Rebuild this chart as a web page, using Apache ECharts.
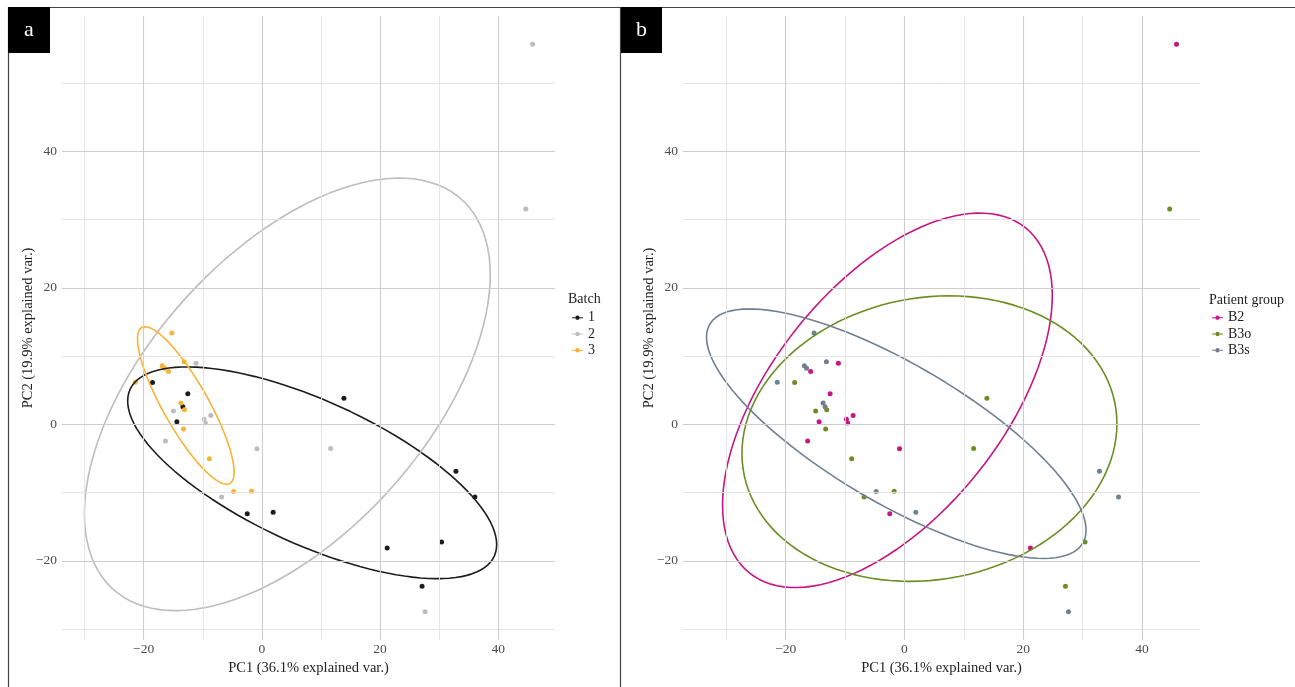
<!DOCTYPE html>
<html>
<head>
<meta charset="utf-8">
<script src="https://cdn.jsdelivr.net/npm/echarts@6/dist/echarts.min.js"></script>
<style>
  html, body { margin: 0; padding: 0; background: #ffffff; }
  #chart { width: 1295px; height: 687px; }
</style>
</head>
<body>
<div id="chart"></div>
<script>
// PCA scores of the 36 samples (first two components)
const pc1 = [
  -18.50, -12.53, -13.37, -14.38, -2.48, 1.91, 13.88, 32.83, 36.04, 30.40, 21.20, 27.10,
  -11.13, -14.96, -8.65, -9.78, -9.56, -16.31, -0.84, -6.80, 11.64, 27.61, 45.80, 44.65,
  -15.23, -13.15, -16.86, -16.48, -15.80, -21.42, -13.71, -13.10, -13.27, -8.89, -4.77, -1.74
];
const pc2 = [
  6.13, 4.51, 2.60, 0.40, -13.09, -12.88, 3.82, -6.85, -10.63, -17.25, -18.13, -23.72,
  8.97, 1.97, 1.32, 0.74, 0.21, -2.44, -3.57, -10.63, -3.53, -27.44, 55.70, 31.57,
  13.38, 9.18, 8.59, 8.24, 7.75, 6.18, 3.15, 2.16, -0.68, -5.04, -9.85, -9.79
];
const batch = [
  '1','1','1','1','1','1','1','1','1','1','1','1',
  '2','2','2','2','2','2','2','2','2','2','2','2',
  '3','3','3','3','3','3','3','3','3','3','3','3'
];
const patientGroup = [
  'B3o','B2','B3s','B2','B2','B3s','B3o','B3s','B3s','B3o','B2','B3o',
  'B2','B3o','B2','B2','B2','B2','B2','B3o','B3o','B3s','B2','B3o',
  'B3s','B3s','B3s','B3s','B2','B3s','B3s','B3o','B3o','B3o','B3s','B3o'
];

const batchLevels = ['1', '2', '3'];
const groupLevels = ['B2', 'B3o', 'B3s'];
const batchColors = ['#1c1c1c', '#bdbdbd', '#f9b233'];
const groupColors = ['#c71585', '#6b8e23', '#708090'];

const xTitle = 'PC1 (36.1% explained var.)';
const yTitle = 'PC2 (19.9% explained var.)';
const ellipseProb = 0.68;

const FONT = '"Liberation Serif", "DejaVu Serif", serif';

// Normal-theory concentration ellipse: mean + sqrt(qchisq(p, 2)) * circle %*% chol(cov)
function concentrationEllipse(xs, ys, prob) {
  const n = xs.length;
  const mx = xs.reduce((s, v) => s + v, 0) / n;
  const my = ys.reduce((s, v) => s + v, 0) / n;
  let sxx = 0, sxy = 0, syy = 0;
  for (let i = 0; i < n; i++) {
    const dx = xs[i] - mx, dy = ys[i] - my;
    sxx += dx * dx; sxy += dx * dy; syy += dy * dy;
  }
  sxx /= (n - 1); sxy /= (n - 1); syy /= (n - 1);
  const a = Math.sqrt(sxx), b = sxy / a, c = Math.sqrt(syy - b * b);
  const ed = Math.sqrt(-2 * Math.log(1 - prob));
  const pts = [];
  const seg = 120;
  for (let k = 0; k <= seg; k++) {
    const t = -Math.PI + 2 * Math.PI * k / seg;
    const ct = Math.cos(t), st = Math.sin(t);
    pts.push([mx + ed * a * ct, my + ed * (b * ct + c * st)]);
  }
  return pts;
}

function buildPanel(groupKey, levels) {
  const points = {}, ellipses = {};
  levels.forEach(lv => {
    const xs = [], ys = [];
    pc1.forEach((v, i) => { if (groupKey[i] === lv) { xs.push(v); ys.push(pc2[i]); } });
    points[lv] = xs.map((v, i) => [v, ys[i]]);
    ellipses[lv] = concentrationEllipse(xs, ys, ellipseProb);
  });
  // data range over points and ellipse paths, expanded by 5% each side
  const all = [];
  levels.forEach(lv => { all.push(...points[lv], ...ellipses[lv]); });
  const xv = all.map(p => p[0]), yv = all.map(p => p[1]);
  const xr = [Math.min(...xv), Math.max(...xv)];
  const yr = [Math.min(...yv), Math.max(...yv)];
  const ex = (xr[1] - xr[0]) * 0.05, ey = (yr[1] - yr[0]) * 0.05;
  return {
    points, ellipses,
    xlim: [xr[0] - ex, xr[1] + ex],
    ylim: [yr[0] - ey, yr[1] + ey]
  };
}

function breaks(lim, step) {
  const major = [], minor = [];
  const start = Math.ceil(lim[0] / step) * step;
  for (let v = start; v <= lim[1]; v += step) major.push(v);
  const ext = [major[0] - step, ...major, major[major.length - 1] + step];
  for (let i = 0; i < ext.length - 1; i++) {
    const m = (ext[i] + ext[i + 1]) / 2;
    if (m >= lim[0] && m <= lim[1]) minor.push(m);
  }
  return { major, minor };
}

const panelA = buildPanel(batch, batchLevels);
const panelB = buildPanel(patientGroup, groupLevels);

const MAJOR = { color: '#cdcdcd', width: 1.1, type: 'solid' };
const MINOR = { color: '#e2e2e2', width: 0.9, type: 'solid' };

function gridSeries(idx, panel) {
  const bx = breaks(panel.xlim, 20), by = breaks(panel.ylim, 20);
  const data = [];
  by.minor.forEach(v => data.push({ yAxis: v, lineStyle: MINOR }));
  bx.minor.forEach(v => data.push({ xAxis: v, lineStyle: MINOR }));
  by.major.forEach(v => data.push({ yAxis: v, lineStyle: MAJOR }));
  bx.major.forEach(v => data.push({ xAxis: v, lineStyle: MAJOR }));
  return {
    type: 'line', xAxisIndex: idx, yAxisIndex: idx, data: [], silent: true, z: 0,
    markLine: {
      silent: true, symbol: ['none', 'none'], animation: false,
      label: { show: false }, emphasis: { disabled: true },
      data
    }
  };
}

function panelSeries(idx, panel, levels, colors) {
  const s = [gridSeries(idx, panel)];
  levels.forEach((lv, k) => {
    s.push({
      name: lv, type: 'scatter', xAxisIndex: idx, yAxisIndex: idx,
      symbol: 'circle', symbolSize: 5, z: 2,
      itemStyle: { color: colors[k], opacity: 1 },
      data: panel.points[lv]
    });
  });
  levels.forEach((lv, k) => {
    s.push({
      name: 'ellipse ' + lv, type: 'line', xAxisIndex: idx, yAxisIndex: idx,
      showSymbol: false, smooth: false, z: 3, silent: true,
      lineStyle: { color: colors[k], width: 1.6 },
      data: panel.ellipses[lv]
    });
  });
  return s;
}

const fmt = v => (v < 0 ? '\u2212' + Math.abs(v) : String(v));

function xAxisCfg(idx, panel) {
  return {
    type: 'value', gridIndex: idx, min: panel.xlim[0], max: panel.xlim[1],
    axisLine: { show: false }, axisTick: { show: false }, splitLine: { show: false },
    axisLabel: {
      customValues: breaks(panel.xlim, 20).major, formatter: fmt,
      color: '#4d4d4d', fontSize: 13.5, fontFamily: FONT, margin: 2
    },
    name: xTitle, nameLocation: 'middle', nameGap: 21,
    nameTextStyle: { color: '#222', fontSize: 14.5, fontFamily: FONT }
  };
}
function yAxisCfg(idx, panel) {
  return {
    type: 'value', gridIndex: idx, min: panel.ylim[0], max: panel.ylim[1],
    axisLine: { show: false }, axisTick: { show: false }, splitLine: { show: false },
    axisLabel: {
      customValues: breaks(panel.ylim, 20).major, formatter: fmt,
      color: '#4d4d4d', fontSize: 13.5, fontFamily: FONT, margin: 5
    },
    name: yTitle, nameLocation: 'middle', nameGap: 26, nameRotate: 90,
    nameMoveOverlap: false,
    nameTextStyle: { color: '#222', fontSize: 14.5, fontFamily: FONT }
  };
}

// legend key: short line with a dot in its middle
const keyIcon = 'path://M0,2.1L3.4,2.1L3.4,3.1L0,3.1Z M7.6,2.1L11,2.1L11,3.1L7.6,3.1Z M3.3,2.6A2.2,2.2 0 1 0 7.7,2.6A2.2,2.2 0 1 0 3.3,2.6Z';

function legendCfg(left, names) {
  return {
    orient: 'vertical', left, top: 304.5, data: names,
    icon: keyIcon, itemWidth: 11, itemHeight: 5, itemGap: 0,
    selectedMode: false,
    textStyle: { fontFamily: FONT, fontSize: 14, color: '#222', lineHeight: 16.3 }
  };
}

const frame = '#444';
const graphic = [
  { type: 'line', shape: { x1: 8, y1: 7.5, x2: 1295, y2: 7.5 }, style: { stroke: frame, lineWidth: 1.2 }, silent: true },
  { type: 'line', shape: { x1: 8.5, y1: 7, x2: 8.5, y2: 687 }, style: { stroke: frame, lineWidth: 1.2 }, silent: true },
  { type: 'line', shape: { x1: 620.5, y1: 7, x2: 620.5, y2: 687 }, style: { stroke: frame, lineWidth: 1.2 }, silent: true },
  { type: 'rect', shape: { x: 8, y: 7, width: 42, height: 46 }, style: { fill: '#000' }, silent: true },
  { type: 'rect', shape: { x: 621, y: 7, width: 41, height: 46 }, style: { fill: '#000' }, silent: true },
  { type: 'text', x: 29, y: 30, style: { text: 'a', fill: '#fff', font: '22px ' + FONT, textAlign: 'center', textVerticalAlign: 'middle' }, silent: true },
  { type: 'text', x: 641.5, y: 30, style: { text: 'b', fill: '#fff', font: '22px ' + FONT, textAlign: 'center', textVerticalAlign: 'middle' }, silent: true },
  { type: 'text', x: 568, y: 299, style: { text: 'Batch', fill: '#222', font: '14px ' + FONT, textAlign: 'left', textVerticalAlign: 'middle' }, silent: true },
  { type: 'text', x: 1209, y: 300, style: { text: 'Patient group', fill: '#222', font: '14px ' + FONT, textAlign: 'left', textVerticalAlign: 'middle' }, silent: true }
];

const chart = echarts.init(document.getElementById('chart'), null, { renderer: 'canvas' });
chart.setOption({
  animation: false,
  backgroundColor: '#ffffff',
  grid: [
    { left: 62, top: 16, width: 493, height: 624, containLabel: false },
    { left: 683, top: 16, width: 517, height: 624, containLabel: false }
  ],
  xAxis: [xAxisCfg(0, panelA), xAxisCfg(1, panelB)],
  yAxis: [yAxisCfg(0, panelA), yAxisCfg(1, panelB)],
  legend: [legendCfg(567, batchLevels), legendCfg(1207, groupLevels)],
  graphic,
  series: [
    ...panelSeries(0, panelA, batchLevels, batchColors),
    ...panelSeries(1, panelB, groupLevels, groupColors)
  ]
});
</script>
</body>
</html>
